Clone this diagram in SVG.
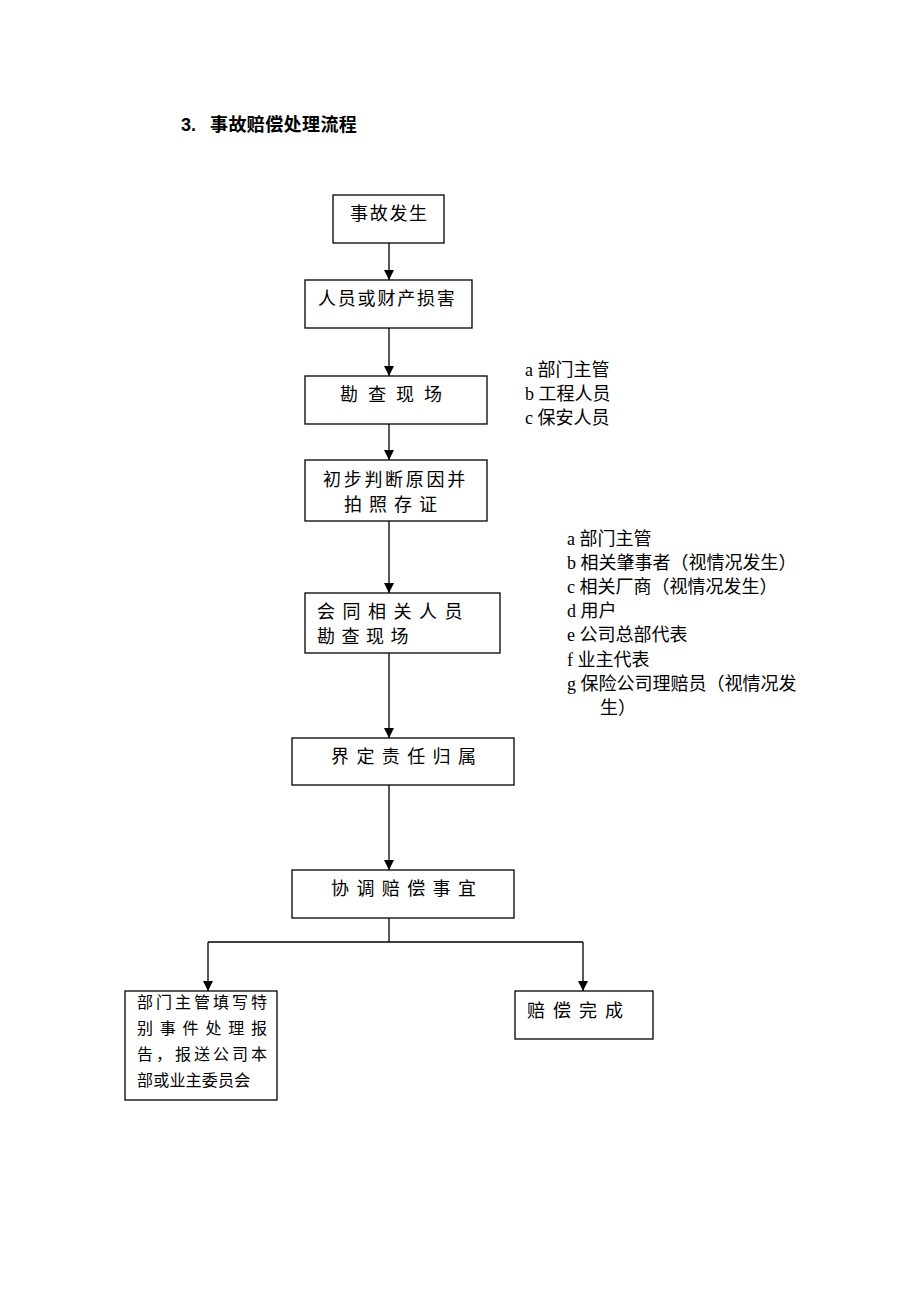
<svg xmlns="http://www.w3.org/2000/svg" width="920" height="1302" viewBox="0 0 920 1302">
<style>
.bg{fill:#fff}
.box{fill:#fff;stroke:#000;stroke-width:1.3}
.t{font-family:"Liberation Serif","Noto Sans CJK SC",serif;font-size:18px;fill:#000}
.s{font-size:16px}
.title{font-family:"Liberation Sans","Noto Sans CJK SC",sans-serif;font-size:18px;font-weight:bold;fill:#000}
.ln{stroke:#000;stroke-width:1.3;fill:none}
</style>
<defs>
<marker id="ah" viewBox="0 0 10 10" refX="10" refY="5" markerWidth="10" markerHeight="11" markerUnits="userSpaceOnUse" orient="auto">
<path d="M0,0 L10,5 L0,10 Z" fill="#000"/>
</marker>
</defs>
<rect class="bg" x="0" y="0" width="920" height="1302"/>
<text class="title" x="181" y="131">3.<tspan x="210" letter-spacing="0.4">事故赔偿处理流程</tspan></text>

<g id="connectors">
<line class="ln" x1="389" y1="243" x2="389" y2="280" marker-end="url(#ah)"/>
<line class="ln" x1="389" y1="328" x2="389" y2="376" marker-end="url(#ah)"/>
<line class="ln" x1="389" y1="424" x2="389" y2="460" marker-end="url(#ah)"/>
<line class="ln" x1="389" y1="521" x2="389" y2="593" marker-end="url(#ah)"/>
<line class="ln" x1="389" y1="653" x2="389" y2="738" marker-end="url(#ah)"/>
<line class="ln" x1="389" y1="785" x2="389" y2="870" marker-end="url(#ah)"/>
<polyline class="ln" points="389,918 389,942"/>
<polyline class="ln" points="208,942 583,942"/>
<line class="ln" x1="208" y1="942" x2="208" y2="991" marker-end="url(#ah)"/>
<line class="ln" x1="583" y1="942" x2="583" y2="991" marker-end="url(#ah)"/>
</g>

<g id="n1"><rect class="box" x="333" y="195" width="111" height="48"/>
<text class="t" x="350" y="220" letter-spacing="1.7">事故发生</text></g>

<g id="n2"><rect class="box" x="305" y="280" width="167" height="48"/>
<text class="t" x="318" y="305" letter-spacing="1.8">人员或财产损害</text></g>

<g id="n3"><rect class="box" x="305" y="376" width="182" height="48"/>
<text class="t" x="340" y="401" letter-spacing="2.75">勘 查 现 场</text></g>

<g id="n4"><rect class="box" x="305" y="460" width="182" height="61"/>
<text class="t" x="323" y="486" letter-spacing="2.7">初步判断原因并</text>
<text class="t" x="344" y="511" letter-spacing="7">拍照存证</text></g>

<g id="n5"><rect class="box" x="305" y="593" width="195" height="60"/>
<text class="t" x="317" y="618" letter-spacing="1.5">会 同 相 关 人 员</text>
<text class="t" x="317" y="643" letter-spacing="1">勘 查 现 场</text></g>

<g id="n6"><rect class="box" x="292" y="738" width="222" height="47"/>
<text class="t" x="331" y="763" letter-spacing="1.45">界 定 责 任 归 属</text></g>

<g id="n7"><rect class="box" x="292" y="870" width="222" height="48"/>
<text class="t" x="331" y="895" letter-spacing="1.45">协 调 赔 偿 事 宜</text></g>

<g id="n8"><rect class="box" x="125" y="991" width="152" height="109"/>
<text class="t s" x="137" y="1008" letter-spacing="3">部门主管填写特</text>
<text class="t s" x="137" y="1034" letter-spacing="1.4">别 事 件 处 理 报</text>
<text class="t s" x="137" y="1060" letter-spacing="3">告，报送公司本</text>
<text class="t s" x="137" y="1086" letter-spacing="0.2">部或业主委员会</text></g>

<g id="n9"><rect class="box" x="515" y="991" width="138" height="48"/>
<text class="t" x="527" y="1017" letter-spacing="1.75">赔 偿 完 成</text></g>

<g id="note1">
<text class="t" x="525" y="376">a 部门主管</text>
<text class="t" x="525" y="400">b 工程人员</text>
<text class="t" x="525" y="424">c 保安人员</text>
</g>

<g id="note2">
<text class="t" x="567" y="545">a 部门主管</text>
<text class="t" x="567" y="569">b 相关肇事者（视情况发生）</text>
<text class="t" x="567" y="593">c 相关厂商（视情况发生）</text>
<text class="t" x="567" y="617">d 用户</text>
<text class="t" x="567" y="641">e 公司总部代表</text>
<text class="t" x="567" y="666">f 业主代表</text>
<text class="t" x="567" y="690">g 保险公司理赔员（视情况发</text>
<text class="t" x="600" y="714">生）</text>
</g>
</svg>
